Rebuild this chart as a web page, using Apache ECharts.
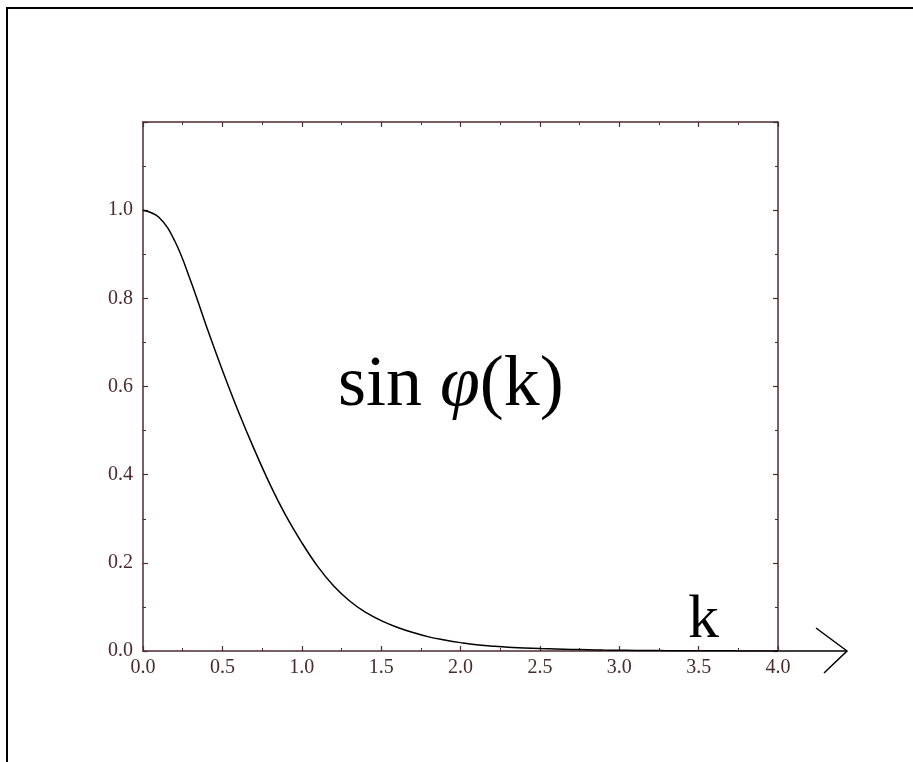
<!DOCTYPE html>
<html>
<head>
<meta charset="utf-8">
<script src="https://cdn.jsdelivr.net/npm/echarts@6/dist/echarts.min.js"></script>
<style>
  html, body { margin: 0; padding: 0; background: #fff; }
  #chart { width: 913px; height: 762px; }
</style>
</head>
<body>
<div id="chart"></div>
<script>
// k values and sin phi(k)
const kValues = [
  0.0, 0.1, 0.2, 0.3, 0.4, 0.5, 0.6, 0.7, 0.8, 0.9,
  1.0, 1.1, 1.2, 1.3, 1.4, 1.5, 1.6, 1.7, 1.8, 1.9,
  2.0, 2.1, 2.2, 2.3, 2.4, 2.5, 2.6, 2.7, 2.8, 2.9,
  3.0, 3.1, 3.2, 3.3, 3.4, 3.5, 3.6, 3.7, 3.8, 3.9, 4.0
];
const sinPhi = [
  1.000, 0.984, 0.930, 0.840, 0.736, 0.637, 0.544, 0.458, 0.378, 0.307,
  0.246, 0.192, 0.148, 0.114, 0.088, 0.069, 0.054, 0.042, 0.032, 0.025,
  0.019, 0.014, 0.011, 0.0085, 0.007, 0.0055, 0.0045, 0.0035, 0.0028, 0.0022,
  0.0017, 0.0013, 0.0010, 0.0008, 0.0006, 0.0005, 0.0004, 0.0003, 0.0002, 0.0002, 0.0001
];
const xTickLabels = ['0.0', '0.5', '1.0', '1.5', '2.0', '2.5', '3.0', '3.5', '4.0'];
const yTickLabels = ['0.0', '0.2', '0.4', '0.6', '0.8', '1.0'];

const axisColor = '#4d2b30';
const labelColor = '#4a2a2e';
const serif = '"Liberation Serif", "DejaVu Serif", serif';

const chart = echarts.init(document.getElementById('chart'));

// 네 변 모두 같은 눈금
function frameAxis(pos, extra) {
  return Object.assign({
    type: 'value',
    position: pos,
    axisLine: { show: true, onZero: false, lineStyle: { color: axisColor, width: 1.5 } },
    axisTick: { show: true, inside: true, length: 5, lineStyle: { color: axisColor, width: 1.2 } },
    minorTick: { show: true, splitNumber: 2, length: 3, lineStyle: { color: axisColor, width: 1 } },
    splitLine: { show: false },
    axisLabel: { show: false }
  }, extra);
}

const xLabel = {
  show: true,
  color: labelColor,
  fontFamily: serif,
  fontSize: 20,
  margin: 7,
  formatter: (v) => xTickLabels[Math.round(v / 0.5)] || ''
};
const yLabel = {
  show: true,
  color: labelColor,
  fontFamily: serif,
  fontSize: 20,
  margin: 10,
  formatter: (v) => yTickLabels[Math.round(v / 0.2)] || ''
};

const option = {
  animation: false,
  backgroundColor: '#fff',
  grid: { left: 143, top: 122, width: 635, height: 529, containLabel: false },
  xAxis: [
    frameAxis('bottom', { min: 0, max: 4, interval: 0.5, axisLabel: xLabel }),
    frameAxis('top', { min: 0, max: 4, interval: 0.5 })
  ],
  yAxis: [
    frameAxis('left', { min: 0, max: 1.2, interval: 0.2, axisLabel: yLabel }),
    frameAxis('right', { min: 0, max: 1.2, interval: 0.2 })
  ],
  series: [
    {
      type: 'line',
      xAxisIndex: 0,
      yAxisIndex: 0,
      data: kValues.map((k, i) => [k, sinPhi[i]]),
      smooth: 0.4,
      showSymbol: false,
      lineStyle: { color: '#000', width: 1.5 },
      z: 1
    }
  ],
  graphic: [
    // outer frame
    {
      type: 'rect',
      shape: { x: 7, y: 8, width: 1000, height: 1000 },
      style: { fill: null, stroke: '#000', lineWidth: 2 },
      silent: true
    },
    // k axis arrow
    {
      type: 'polyline',
      shape: { points: [[778, 651], [847, 651]] },
      style: { stroke: '#000', lineWidth: 1.5, fill: null }
    },
    {
      type: 'polyline',
      shape: { points: [[816, 628], [847, 651], [824, 673]] },
      style: { stroke: '#000', lineWidth: 1.5, fill: null }
    },
    {
      type: 'text',
      left: 338,
      top: 350,
      style: {
        text: '{a|sin }{b|φ}{a|(k)}',
        rich: {
          a: { fontFamily: serif, fontSize: 72, fill: '#000' },
          b: { fontFamily: serif, fontSize: 72, fontStyle: 'italic', fill: '#000' }
        }
      }
    },
    {
      type: 'text',
      left: 688,
      top: 590,
      style: { text: 'k', fontFamily: serif, fontSize: 62, fill: '#000' }
    }
  ]
};

chart.setOption(option);
</script>
</body>
</html>
